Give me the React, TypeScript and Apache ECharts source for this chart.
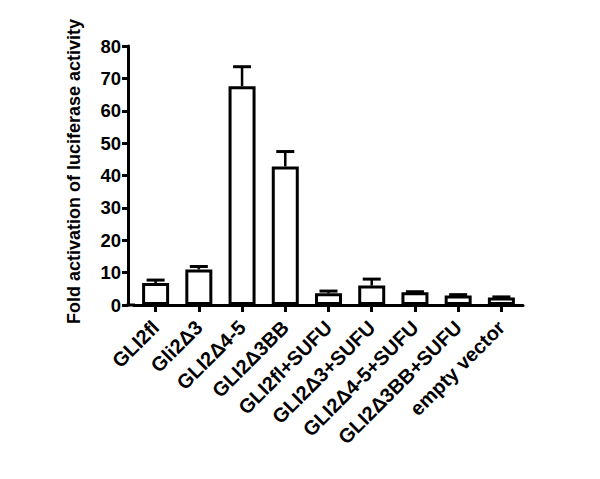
import React, { useEffect, useRef } from "react";
import * as echarts from "echarts";

const categories = [
  "GLI2fl",
  "Gli2Δ3",
  "GLI2Δ4-5",
  "GLI2Δ3BB",
  "GLI2fl+SUFU",
  "GLI2Δ3+SUFU",
  "GLI2Δ4-5+SUFU",
  "GLI2Δ3BB+SUFU",
  "empty vector",
];
const means = [6.8, 11.0, 67.6, 42.8, 3.6, 6.0, 3.9, 2.9, 2.3];
const upperErrors = [7.7, 11.9, 73.6, 47.4, 4.3, 8.0, 4.1, 3.2, 2.5];
const yTicks = { min: 0, max: 80, interval: 10 };
const yTitle = "Fold activation of luciferase activity";

const FONT = "'Liberation Sans', Arial, sans-serif";

export default function App() {
  const ref = useRef<HTMLDivElement>(null);
  useEffect(() => {
    if (!ref.current) return;
    const chart = echarts.init(ref.current, undefined, { renderer: "svg" });
    const gridLeft = 134;
    const gridBottom = 174;
    const H = 479;
    chart.setOption({
      animation: false,
      backgroundColor: "#ffffff",
      grid: { left: gridLeft, right: 77, top: 46, bottom: gridBottom },
      xAxis: {
        type: "category",
        data: categories,
        axisLine: { show: true, lineStyle: { color: "#000", width: 3 } },
        axisTick: { show: true, alignWithLabel: true, length: 7, lineStyle: { color: "#000", width: 3 } },
        axisLabel: {
          rotate: 45,
          interval: 0,
          margin: 19,
          color: "#000",
          fontFamily: FONT,
          fontWeight: "bold",
          fontSize: 20,
        },
      },
      yAxis: {
        type: "value",
        min: yTicks.min,
        max: yTicks.max,
        interval: yTicks.interval,
        offset: 6,
        name: yTitle,
        nameLocation: "middle",
        nameGap: 45,
        nameTextStyle: {
          color: "#000",
          fontFamily: FONT,
          fontWeight: "bold",
          fontSize: 18,
          padding: [0, 0, 0, 8],
        },
        splitLine: { show: false },
        axisLine: { show: true, lineStyle: { color: "#000", width: 3 } },
        axisTick: { show: true, length: 6, lineStyle: { color: "#000", width: 3 } },
        axisLabel: { color: "#000", fontFamily: FONT, fontWeight: "bold", fontSize: 18.5, margin: 7 },
      },
      graphic: [
        {
          type: "line",
          shape: { x1: gridLeft - 7.5, y1: H - gridBottom, x2: gridLeft + 1, y2: H - gridBottom },
          style: { stroke: "#000", lineWidth: 3 },
        },
      ],
      series: [
        {
          type: "bar",
          data: means,
          barWidth: 27,
          itemStyle: { color: "#fff", borderColor: "#000", borderWidth: 3 },
          z: 2,
        },
        {
          type: "custom",
          z: 3,
          data: means.map((m, i) => [i, m, upperErrors[i]]),
          renderItem: (params: any, api: any) => {
            const i = api.value(0);
            const p0 = api.coord([i, api.value(1)]);
            const p1 = api.coord([i, api.value(2)]);
            const hw = 9;
            return {
              type: "group",
              children: [
                {
                  type: "line",
                  shape: { x1: p0[0], y1: p0[1], x2: p1[0], y2: p1[1] },
                  style: { stroke: "#000", lineWidth: 2.5 },
                },
                {
                  type: "line",
                  shape: { x1: p1[0] - hw, y1: p1[1], x2: p1[0] + hw, y2: p1[1] },
                  style: { stroke: "#000", lineWidth: 3 },
                },
              ],
            };
          },
        },
      ],
    });
    return () => chart.dispose();
  }, []);
  return <div ref={ref} style={{ width: 600, height: 479, margin: -8 }} />;
}
